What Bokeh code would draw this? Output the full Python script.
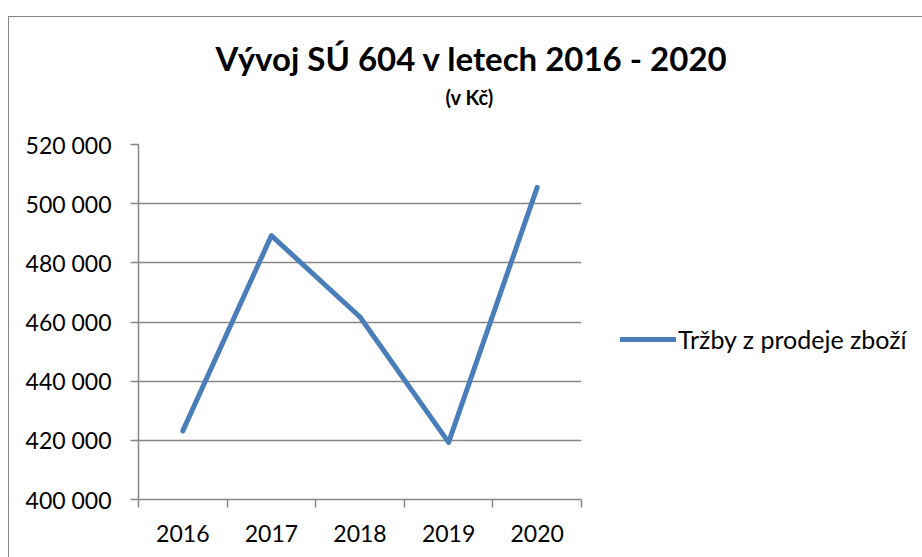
from bokeh.plotting import figure
from bokeh.models import (Range1d, FixedTicker, Title, Legend, LegendItem, InlineStyleSheet)
from bokeh.embed import file_html
from bokeh.resources import INLINE

# ---- data ----
years = ["2016", "2017", "2018", "2019", "2020"]
sales = [423200, 489200, 461700, 419300, 505500]
y_ticks = [400000, 420000, 440000, 460000, 480000, 500000, 520000]
y_tick_labels = ["400 000", "420 000", "440 000", "460 000", "480 000", "500 000", "520 000"]
title_text = "Vývoj SÚ 604 v letech 2016 - 2020"
subtitle_text = "(v Kč)"
series_name = "Tržby z prodeje zboží"

FONT = "Lato"
GREY = "#868686"
BLUE = "#4A7EBB"

x_pos = [i + 0.5 for i in range(len(years))]
bounds = list(range(len(years) + 1))

p = figure(output_backend="svg", toolbar_location=None,
           frame_width=443, frame_height=355,
           min_border_left=138, min_border_right=341,
           min_border_top=144, min_border_bottom=58,
           x_range=Range1d(0, len(years)), y_range=Range1d(y_ticks[0], y_ticks[-1]))
p.outline_line_color = None
p.background_fill_color = "white"
p.border_fill_color = "white"

r = p.line(x_pos, sales, line_color=BLUE, line_width=5,
           line_cap="round", line_join="round")

# y axis
ya = p.yaxis[0]
ya.ticker = FixedTicker(ticks=y_ticks)
ya.major_label_overrides = {float(t): l for t, l in zip(y_ticks, y_tick_labels)}
ya.axis_line_color = GREY
ya.axis_line_width = 1.5
ya.major_tick_line_color = GREY
ya.major_tick_line_width = 1.5
ya.major_tick_out = 8
ya.major_tick_in = 0
ya.minor_tick_line_color = None
ya.major_label_standoff = 19
ya.major_label_text_font = FONT
ya.major_label_text_font_size = "23px"
ya.major_label_text_color = "black"

# x axis
xa = p.xaxis[0]
xa.ticker = FixedTicker(ticks=x_pos, minor_ticks=bounds)
xa.major_label_overrides = {float(x): y for x, y in zip(x_pos, years)}
xa.axis_line_color = GREY
xa.axis_line_width = 1.5
xa.major_tick_line_color = None
xa.minor_tick_line_color = GREY
xa.minor_tick_line_width = 1.5
xa.minor_tick_out = 8
xa.minor_tick_in = 0
xa.major_tick_out = 8
xa.major_label_standoff = 17
xa.major_label_text_font = FONT
xa.major_label_text_font_size = "23px"
xa.major_label_text_color = "black"

p.xgrid.grid_line_color = None
p.ygrid.grid_line_color = GREY
p.ygrid.grid_line_width = 1.5
p.ygrid.ticker = FixedTicker(ticks=y_ticks)

# titles (first added = closest to the plot area)
p.add_layout(Title(text=" ", text_font=FONT, text_font_size="10px", standoff=22), "above")
p.add_layout(Title(text=subtitle_text, align="left", offset=307,
                   text_font=FONT, text_font_style="bold", text_font_size="20px",
                   text_color="black", standoff=0), "above")
p.add_layout(Title(text=title_text, align="left", offset=77,
                   text_font=FONT, text_font_style="bold", text_font_size="33px",
                   text_color="black", standoff=10), "above")

# outer chart-area border (top and left edges)
p.stylesheets = [InlineStyleSheet(css=(
    ":host::after { content: ''; position: absolute; left: 8px; top: 16px; right: 0; bottom: 0;"
    " border-left: 1.5px solid #868686; border-top: 1.5px solid #868686;"
    " pointer-events: none; z-index: 10; }"))]

legend = Legend(items=[LegendItem(label=series_name, renderers=[r])],
                location=(39, 145), border_line_color=None, background_fill_alpha=0,
                padding=0, margin=0, spacing=0, glyph_width=56, glyph_height=24,
                label_standoff=2, label_text_font=FONT, label_text_font_size="25px",
                label_text_color="black")
p.add_layout(legend, "right")

open("out.html", "w").write(file_html(p, INLINE))
